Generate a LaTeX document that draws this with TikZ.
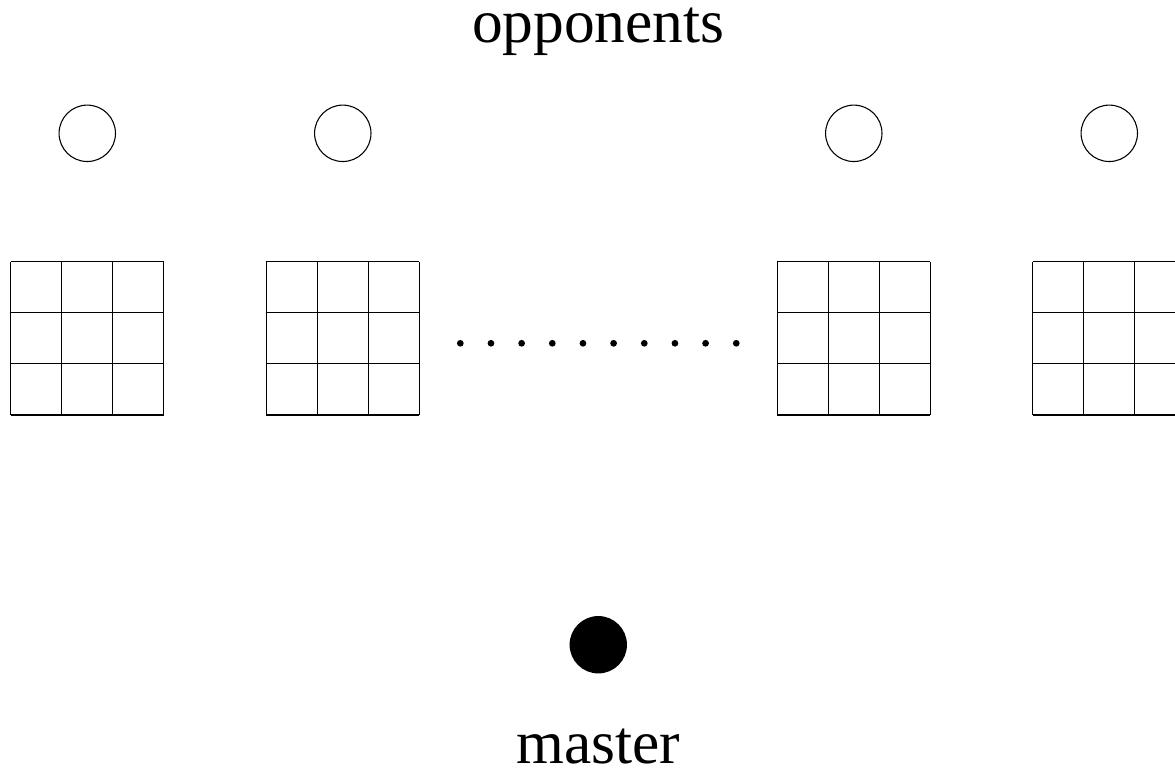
\documentclass[tikz,border=0pt]{standalone}
\usepackage{fontspec}
\setmainfont{Liberation Serif}
\usetikzlibrary{positioning}

\begin{document}
\begin{tikzpicture}[
  player/.style={draw, circle, minimum size=1.104cm, inner sep=0pt, line width=0.6pt},
  master/.style={circle, fill=black, minimum size=1.123cm, inner sep=0pt},
  title/.style={font=\fontsize{34.2}{40}\selectfont, anchor=base, inner sep=0pt,
    text height=0.66em, text depth=0pt},
  board/.style={draw, line width=0.6pt, step=1}
]
\useasboundingbox (0,0) rectangle (22.994,-15.068);

\node[title] (opp) at (11.708,-0.836) {opponents};

% opponents and their boards
\foreach \k/\x in {1/1.708, 2/6.708, 3/16.708, 4/21.708} {
  \node[player] (p\k) at (\x,-2.609) {};
  \coordinate (b\k) at (\x-1.5,-8.121);
  \draw[board, shift={(b\k)}] (0,0) grid (3,3);
}

% dots in between
\foreach \i in {0,...,9}
  \fill (9.008+0.6*\i,-6.718) circle (0.066);

\node[master] (m) at (11.708,-12.617) {};
\node[title] (mst) at (11.708,-14.937) {master};
\end{tikzpicture}
\end{document}
